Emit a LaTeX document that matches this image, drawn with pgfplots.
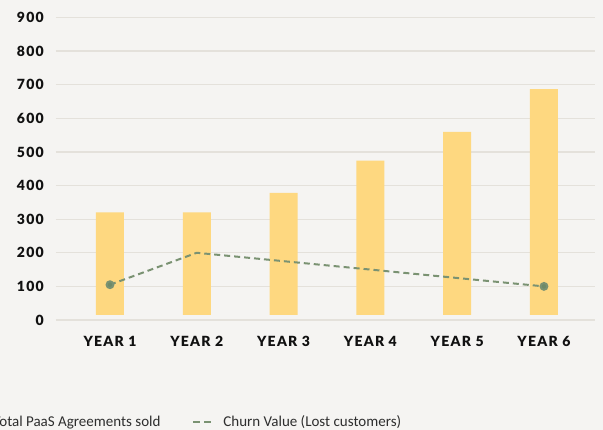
\documentclass[border=0pt]{standalone}
\usepackage{pgfplots}
\pgfplotsset{compat=1.18}
\usepackage{pgfplotstable}
\usepackage{fontspec}
\setmainfont{Carlito}
\newfontfamily\tickfont[LetterSpace=9, BoldFont={Lato Black}]{Lato}

\definecolor{bgcol}{HTML}{F5F4F2}
\definecolor{gridcol}{HTML}{E4E1DB}
\definecolor{barcol}{HTML}{FED880}
\definecolor{linecol}{HTML}{7A9272}
\definecolor{markcol}{HTML}{6E8A68}
\definecolor{legtext}{HTML}{2E2E2E}
\definecolor{ticktext}{HTML}{111111}

% year, bar base, agreements sold, churn
\pgfplotstableread{
x base total churn
1 15 320 105
2 15 320 200
3 15 378 175
4 15 474 150
5 15 560 125
6 15 687 100
}\datatable

\pgfplotsset{
  common/.style={
    scale only axis,
    width=539pt, height=302.5pt,
    at={(56pt,110pt)}, anchor=south west,
    xmin=0.378, xmax=6.588,
    ymin=0, ymax=900,
  },
}

\begin{document}
\begin{tikzpicture}
\fill[bgcol] (0pt,0pt) rectangle (603pt,430pt);

% grid, ticks and bars
\begin{axis}[
  common,
  ybar stacked,
  bar width=28pt,
  axis line style={draw=none},
  tick style={draw=none},
  ymajorgrids=true,
  grid style={gridcol, line width=1.3pt},
  ytick={0,100,...,900},
  xtick={1,2,3,4,5,6},
  xticklabels={YEAR 1,YEAR 2,YEAR 3,YEAR 4,YEAR 5,YEAR 6},
  /pgf/number format/assume math mode=true,
  ticklabel style={font=\tickfont\bfseries\fontsize{14}{14}\selectfont, text=ticktext, inner sep=0pt},
  yticklabel style={anchor=east, xshift=-12pt},
  xticklabel style={anchor=north, yshift=-16pt},
]
\addplot[draw=none, fill=none, forget plot] table[x=x, y=base] {\datatable};
\addplot[draw=none, fill=barcol] table[x=x, y expr=\thisrow{total}-\thisrow{base}] {\datatable};
\end{axis}

% churn line and legend
\begin{axis}[
  common,
  hide axis,
  legend columns=-1,
  legend style={
    at={(-0.1707,-0.337)}, anchor=west,
    draw=none, fill=none, inner sep=0pt, outer sep=0pt,
    font=\fontsize{15}{15}\selectfont, text=legtext,
    nodes={inner sep=0pt},
    /tikz/every odd column/.append style={column sep=11pt},
    /tikz/every even column/.append style={column sep=32pt},
  },
]
\addlegendimage{legend image code/.code={\fill[barcol] (0pt,-5pt) rectangle (18pt,5pt);}}
\addlegendentry{Total PaaS Agreements sold}
\addplot[linecol, line width=2pt, dash pattern=on 6pt off 4pt,
  mark=*, mark indices={1,6}, mark size=3.4pt,
  mark options={solid, fill=markcol, draw=none},
  legend image code/.code={\draw[linecol, line width=2pt, dash pattern=on 7pt off 4pt] (0pt,0pt) -- (18pt,0pt);}]
  table[x=x, y=churn] {\datatable};
\addlegendentry{Churn Value (Lost customers)}
\end{axis}

\pgfresetboundingbox
\path[use as bounding box] (0pt,0pt) rectangle (603pt,430pt);
\end{tikzpicture}
\end{document}
